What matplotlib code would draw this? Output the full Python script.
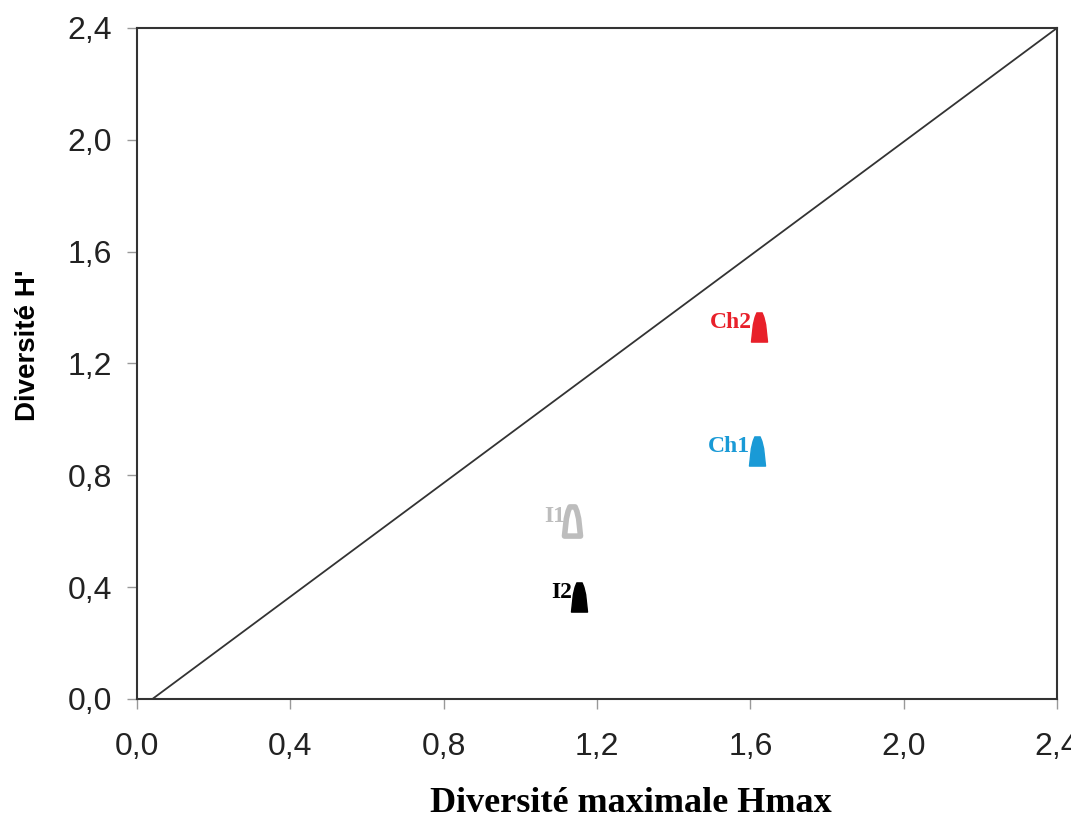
import numpy as np
import matplotlib
matplotlib.use('Agg')
import matplotlib.pyplot as plt
from matplotlib.path import Path

# data
sites = ['Ch2', 'Ch1', 'I1', 'I2']
hmax = [1.623, 1.617, 1.135, 1.153]
hprime = [1.33, 0.887, 0.637, 0.365]
colors = ['#e8202a', '#1a9ad6', '#bdbdbd', '#000000']
hollow = [False, False, True, False]

line_x = [0.04, 2.4]
line_y = [0.0, 2.4]
ticks = [0.0, 0.4, 0.8, 1.2, 1.6, 2.0, 2.4]
tick_labels = ['0,0', '0,4', '0,8', '1,2', '1,6', '2,0', '2,4']

# tapered "tower" marker
verts = [(-0.55, -1.0), (0.55, -1.0), (0.42, 0.2), (0.3, 0.7), (0.18, 1.0),
         (-0.18, 1.0), (-0.3, 0.7), (-0.42, 0.2), (-0.55, -1.0)]
tower = Path(verts, closed=True)

fig = plt.figure(figsize=(10.71, 8.18), dpi=100)
ax = fig.add_axes([0.128, 0.1455, 0.859, 0.8203])

ax.plot(line_x, line_y, color='#333333', lw=1.3)

for s, x, y, c, h in zip(sites, hmax, hprime, colors, hollow):
    if h:
        ax.plot(x, y, marker=tower, ms=21, mfc='white', mec=c, mew=4, ls='none')
    else:
        ax.plot(x, y, marker=tower, ms=21, color=c, ls='none')
    ax.annotate(s, (x, y), xytext=(-5, 3), textcoords='offset points',
                ha='right', va='center', color=c, fontsize=17,
                fontweight='bold', family='Liberation Serif')

ax.set_xlim(0, 2.4)
ax.set_ylim(0, 2.4)
ax.set_xticks(ticks)
ax.set_yticks(ticks)
ax.set_xticklabels(tick_labels, fontsize=23, family='Liberation Sans', color='#222222')
ax.set_yticklabels(tick_labels, fontsize=23, family='Liberation Sans', color='#222222')
ax.tick_params(direction='out', length=7, width=1, color='#999999')
ax.tick_params(axis='y', pad=11)
ax.tick_params(axis='x', pad=17)
for sp in ax.spines.values():
    sp.set_color('#333333')
    sp.set_linewidth(1.5)

fig.text(0.589, 0.018, 'Diversité maximale Hmax', ha='center', va='center',
         fontsize=26, fontweight='bold', family='Liberation Serif')
fig.text(0.026, 0.578, "Diversité H'", ha='center', va='center', rotation=90,
         fontsize=20, fontweight='bold', family='Liberation Sans')

plt.savefig('out.png', dpi=100)
